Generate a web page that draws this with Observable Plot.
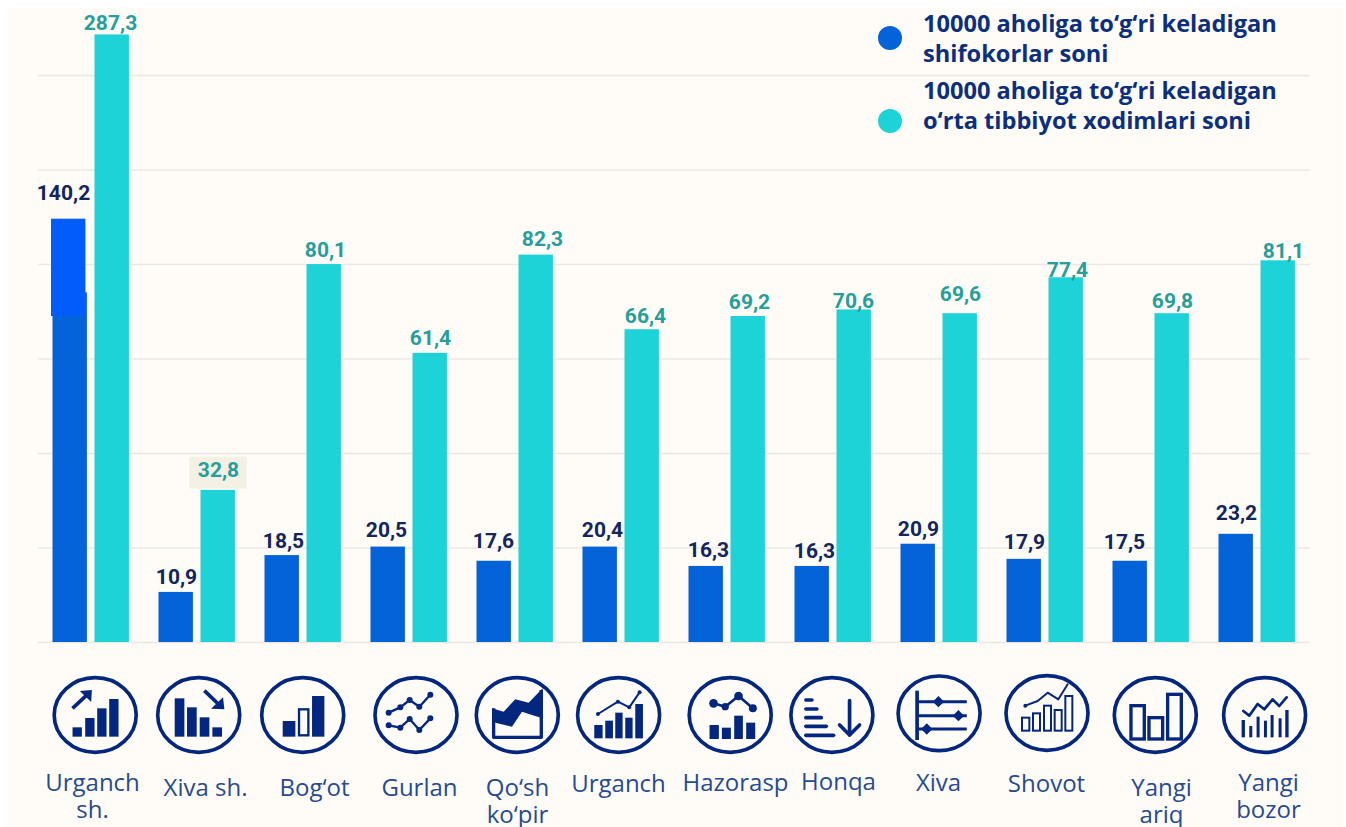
<!DOCTYPE html>
<html><head><meta charset="utf-8">
<script src="https://cdn.jsdelivr.net/npm/d3@7"></script>
<script src="https://cdn.jsdelivr.net/npm/@observablehq/plot@0.6"></script>
<style>
html,body{margin:0;padding:0;background:#fff;width:1346px;height:827px;overflow:hidden}
#bg{position:absolute;left:7px;top:8px;width:1336px;height:819px;background:#fffbf6}
#chart{position:absolute;left:0;top:0}
#legend{position:absolute;left:0;top:0;font:700 23.6px/30px "Open Sans",sans-serif;color:#0b2f7e}
#legend .t{position:absolute;left:923px;white-space:nowrap}
#legend .d{position:absolute;left:878px;width:24px;height:24px;border-radius:50%}
</style></head><body>
<div id="bg"></div>
<div id="chart"></div>
<div id="legend">
  <span class="d" style="top:26px;background:#0563da"></span>
  <div class="t" style="top:8px">10000 aholiga to‘g‘ri keladigan<br>shifokorlar soni</div>
  <span class="d" style="top:109px;background:#1dd3d8"></span>
  <div class="t" style="top:75px">10000 aholiga to‘g‘ri keladigan<br>o‘rta tibbiyot xodimlari soni</div>
</div>
<script>
// ---- data ----
const districts = ["Urganch sh.","Xiva sh.","Bog‘ot","Gurlan","Qo‘sh ko‘pir","Urganch","Hazorasp","Honqa","Xiva","Shovot","Yangi ariq","Yangi bozor"];
const tickLabels = ["Urganch\nsh.","Xiva sh.","Bog‘ot","Gurlan","Qo‘sh\nko‘pir","Urganch","Hazorasp","Honqa","Xiva","Shovot","Yangi\nariq","Yangi\nbozor"];
const doctors = [140.2,10.9,18.5,20.5,17.6,20.4,16.3,16.3,20.9,17.9,17.5,23.2];
const nurses  = [287.3,32.8,80.1,61.4,82.3,66.4,69.2,70.6,69.6,77.4,69.8,81.1];
// bar heights as they stand in the source picture (the two tallest are cut short)
const doctorsDrawn = [74,10.6,18.4,20.2,17.2,20.2,16.1,16.1,20.8,17.6,17.2,22.9];
const nursesDrawn  = [128.6,32.2,80,61.2,82,66.2,69,70.4,69.6,77.2,69.6,80.8];
const patchLow = 69, patchHigh = 89.6;

// ---- layout nudges (not data) ----
const doctorNudge = [[-7,-26],[0,-15],[1,-14],[-2,-17],[-1,-20],[2,-17],[2,-16],[2,-15],[0,-15],[0,-17],[-6,-19],[0,-21]];
const nurseNudge  = [[-2,-12],[0,-20],[1,-14],[0,-15],[6,-16],[3,-13],[1,-14],[-1,-9],[0,-19],[1,-8],[0,-12],[5,-10]];
const tickNudge = [[1,0],[8,5],[11,5],[10,5],[2,5],[-3,1],[8,0],[5,-1],[-1,0],[1,1],[10,5],[11,0]];

const dark="#0563da", bright="#005dfb", teal="#1dd3d8", navy="#03277f", grid="#ece8e4";

const rows = districts.flatMap((district,i)=>[
  {district,series:"doctors",value:doctors[i],top:doctorsDrawn[i],nudge:doctorNudge[i]},
  {district,series:"nurses",value:nurses[i],top:nursesDrawn[i],nudge:nurseNudge[i]}
]);
rows[0].labelAt = patchHigh;
const fmt = v => v.toFixed(1).replace(".",",");

// ---- icons, drawn in 3x units around (ox,oy) ----
const B=(a,b,c,d)=>`<rect x="${a}" y="${b}" width="${c-a}" height="${d-b}" fill="${navy}"/>`;
const O=(a,b,c,d,w)=>`<rect x="${a}" y="${b}" width="${c-a}" height="${d-b}" fill="none" stroke="${navy}" stroke-width="${w}"/>`;
const L=(p,w,cap="round")=>`<polyline points="${p}" fill="none" stroke="${navy}" stroke-width="${w}" stroke-linecap="${cap}" stroke-linejoin="round"/>`;
const P=p=>`<polygon points="${p}" fill="${navy}"/>`;
const C=(x,y,r)=>`<circle cx="${x}" cy="${y}" r="${r}" fill="${navy}"/>`;
const icons = [
 {ox:282,oy:195,dx:4.2,art:B(214,232,242,260)+B(252,204,280,260)+B(288,175,316,260)+B(324,147,352,260)+L("214,175 262,130",11,"butt")+P("272,120 236,123 270,156")},
 {ox:595,oy:195,dx:1.7,art:B(523,145,552,260)+B(560,172,589,260)+B(598,202,627,260)+B(636,232,665,260)+L("612,122 660,168",11,"butt")+P("672,178 632,176 668,142")},
 {ox:907,oy:195,dx:-0.3,art:B(847,213,885,260)+O(896,178,924,256,7)+B(935,138,972,260)},
 {ox:1247,oy:195,dx:7,art:L("1165,188 1200,172 1228,150 1257,170 1290,134",7)+L("1165,226 1200,233 1228,207 1257,240 1290,205",7)+[[1165,188],[1200,172],[1228,150],[1257,170],[1290,134],[1165,226],[1200,233],[1228,207],[1257,240],[1290,205]].map(p=>C(p[0],p[1],9)).join("")},
 {ox:201,oy:195,dx:2.3,art:P("125,175 160,185 195,148 235,158 277,115 277,205 245,195 215,185 185,230 135,218")+L("130,175 130,262 273,262 273,120",10,"butt")},
 {ox:505,oy:195,dx:-2.4,art:B(432,225,457,265)+B(465,212,488,265)+B(495,188,517,265)+B(525,203,547,265)+B(555,162,578,265)+L("443,192 503,155 537,172 568,127",6)+C(443,192,6)+C(503,155,6)+C(537,172,6)+C(568,127,6)},
 {ox:840,oy:195,dx:3.2,art:B(778,225,806,267)+B(815,233,842,267)+B(852,197,878,267)+B(888,218,915,267)+L("790,160 825,170 865,138 908,175",8)+C(790,160,13)+C(825,170,11)+C(865,138,13)+C(908,175,12)},
 {ox:1145,oy:195,dx:-1.1,art:L("1067,150 1085,150",11)+L("1067,177 1100,177",11)+L("1067,203 1113,203",11)+L("1067,229 1128,229",11)+L("1067,256 1150,256",11)+L("1198,152 1198,254",11)+L("1168,225 1198,255 1228,225",11)},
 {ox:129,oy:190,dx:0.1,art:L("63,122 63,270",11,"butt")+L("63,155 212,155",9,"butt")+L("63,197 212,197",9,"butt")+L("63,237 212,237",9,"butt")+P("127,138 144,155 127,172 110,155")+P("187,180 204,197 187,214 170,197")+P("92,220 109,237 92,254 75,237")},
 {ox:453,oy:189,dx:2,art:O(378,203,400,242,6)+O(411,190,432,242,6)+O(444,167,465,242,6)+O(476,180,497,242,6)+O(508,138,529,242,6)+L("388,167 425,153 455,128 487,148 515,103",6)+C(388,167,6)},
 {ox:778,oy:195,dx:4.3,art:O(705,167,745,267,10)+O(759,203,800,267,10)+O(815,133,856,267,10)},
 {ox:1106,oy:195,dx:7.6,art:B(1037,210,1047,262)+B(1060,228,1069,262)+B(1082,200,1091,262)+B(1104,212,1113,262)+B(1124,195,1133,262)+B(1148,205,1157,262)+B(1168,180,1178,262)+L("1042,183 1060,197 1085,162 1105,178 1130,148 1150,168 1172,142",8)}
].map((d,i)=>({...d,district:districts[i]}));

function iconRender(index, scales, values, dims){
  const ns = "http://www.w3.org/2000/svg";
  const g = document.createElementNS(ns,"g");
  for (const i of index){
    const d = icons[i];
    const cx = dims.marginLeft + scales.fx.bandwidth()/2 + d.dx;
    const cy = scales.y(0) + d.oy/3 + 8;
    const s = document.createElementNS(ns,"g");
    s.setAttribute("transform",`translate(${cx},${cy}) scale(${1/3}) translate(${-d.ox},${-d.oy})`);
    s.innerHTML = `<ellipse cx="${d.ox}" cy="${d.oy}" rx="123" ry="112" fill="none" stroke="${navy}" stroke-width="11"/>`+d.art;
    g.appendChild(s);
  }
  return g;
}

const textFont = {fontFamily:"Roboto, sans-serif",fontWeight:700,fontSize:21};

const chart = Plot.plot({
  width:1346, height:827,
  marginLeft:37.5, marginRight:36, marginTop:8, marginBottom:185,
  style:{background:"transparent"},
  fx:{domain:districts,padding:0,axis:null},
  x:{domain:["doctors","nurses"],paddingInner:0.176,paddingOuter:0.343,axis:null},
  y:{domain:[0,134.2],axis:null},
  color:{domain:["doctors","nurses"],range:[dark,teal]},
  marks:[
    Plot.ruleY([0,20,40,60,80,100,120],{stroke:grid,strokeWidth:1.5}),
    Plot.barY(rows,{fx:"district",x:"series",y1:0,y2:"top",fill:"series",insetRight:0.6}),
    Plot.barY([districts[0]],{fx:d=>d,x:()=>"doctors",y1:()=>patchLow,y2:()=>patchHigh,fill:bright,dx:-1.5,insetRight:0.6}),
    Plot.rect(rows.filter(d=>d.value===32.8),{fx:"district",x:"series",y1:d=>d.top+0.3,y2:d=>d.top+7,fill:"#f3f0e4",insetLeft:-11,insetRight:-11}),
    ...rows.map(r=>Plot.text([r],{fx:"district",x:"series",y:d=>d.labelAt??d.top,text:d=>fmt(d.value),
      fill:r.series==="doctors"?"#12265e":"#259f9c",dx:r.nudge[0],dy:r.nudge[1],...textFont})),
    Plot.text(icons,{fx:"district",text:"district",frameAnchor:"middle",render:iconRender}),
    ...districts.map((d,i)=>Plot.text([d],{fx:x=>x,text:()=>tickLabels[i],frameAnchor:"bottom",lineAnchor:"top",
      lineHeight:1.13,fontFamily:"'Open Sans',sans-serif",fontSize:24,
      fill:"#264b92",dy:129+tickNudge[i][1],dx:tickNudge[i][0]}))
  ]
});
document.getElementById("chart").appendChild(chart);
</script>
</body></html>
